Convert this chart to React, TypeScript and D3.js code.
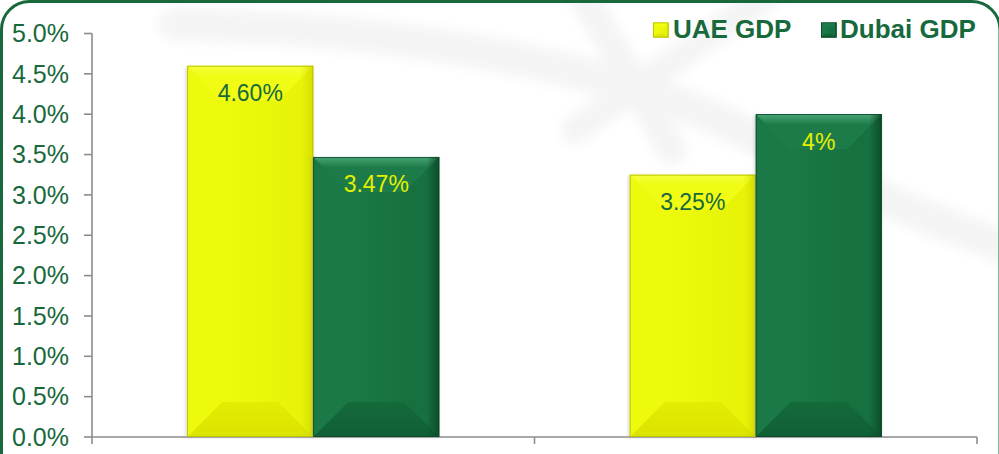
import React from "react";
import * as d3 from "d3";

const categories = ["Period 1", "Period 2"];
const seriesNames = ["UAE GDP", "Dubai GDP"];
const uaeGdp = [4.6, 3.25];
const dubaiGdp = [3.47, 4.0];
const uaeLabels = ["4.60%", "3.25%"];
const dubaiLabels = ["3.47%", "4%"];
const yTicks = [0, 0.5, 1, 1.5, 2, 2.5, 3, 3.5, 4, 4.5, 5];
const yTickLabels = ["0.0%", "0.5%", "1.0%", "1.5%", "2.0%", "2.5%", "3.0%", "3.5%", "4.0%", "4.5%", "5.0%"];

const W = 999;
const H = 454;
const M = { left: 92, right: 22, top: 33.5, bottom: 17 };
const DARK = "#17693c";
const FONT = "Arial, 'Liberation Sans', sans-serif";

type Pal = { base: string; bodyLeft: string; bodyRight: string; light: string; lightEdge: string; bottom: string; bottomEdge: string; stroke: string; label: string };
const pals: Pal[] = [
  { base: "#e8f407", bodyLeft: "#eefa0c", bodyRight: "#d5dc00", light: "#f0fc14", lightEdge: "#f4ff3c", bottom: "#e3ec02", bottomEdge: "#dbe300", stroke: "#b5b800", label: DARK },
  { base: "#16703f", bodyLeft: "#1a7946", bodyRight: "#0a4a28", light: "#1d7b49", lightEdge: "#48a474", bottom: "#146a3b", bottomEdge: "#105f35", stroke: "#0b4627", label: "#e4f000" },
];

function BevelRect({ x, y, w, h, p, id, d0 }: { x: number; y: number; w: number; h: number; p: Pal; id: string; d0: number }) {
  const d = Math.min(d0, w / 2, h / 2);
  return (
    <g transform={`translate(${x},${y})`}>
      <rect x={0} y={0} width={w} height={h} fill={`url(#body-${id})`} />
      <polygon points={`0,0 ${w},0 ${w - d},${d} ${d},${d}`} fill={`url(#top-${id})`} />
      <polygon points={`0,${h} ${w},${h} ${w - d},${h - d} ${d},${h - d}`} fill={`url(#bot-${id})`} />
      <rect x={w * 0.9} y={0} width={w * 0.1} height={h} fill={`url(#edge-${id})`} />
      <rect x={0.4} y={0.4} width={w - 0.8} height={h - 0.8} fill="none" stroke={p.stroke} strokeWidth={0.8} />
    </g>
  );
}

export default function App() {
  const x0 = d3.scaleBand<string>().domain(categories).range([M.left, W - M.right]).paddingInner(0).paddingOuter(0);
  const x1 = d3.scaleBand<string>().domain(seriesNames).range([0, x0.bandwidth()]).paddingInner(0).paddingOuter(0.756);
  const y = d3.scaleLinear().domain([0, 5]).range([H - M.bottom, M.top]);
  const series = [uaeGdp, dubaiGdp];
  const labels = [uaeLabels, dubaiLabels];
  const y0 = y(0);

  return (
    <svg width={W} height={H} style={{ position: "absolute", left: 0, top: 0, background: "#fff" }} fontFamily={FONT}>
      <defs>
        {pals.map((p, i) => (
          <React.Fragment key={i}>
            <linearGradient id={`body-${i}`} x1="0" y1="0" x2="1" y2="0">
              <stop offset="0" stopColor={p.bodyLeft} />
              <stop offset="0.3" stopColor={p.bodyLeft} />
              <stop offset="0.8" stopColor={p.base} />
              <stop offset="1" stopColor={p.base} />
            </linearGradient>
            <linearGradient id={`edge-${i}`} x1="0" y1="0" x2="1" y2="0">
              <stop offset="0" stopColor={p.bodyRight} stopOpacity={0} />
              <stop offset="1" stopColor={p.bodyRight} stopOpacity={0.9} />
            </linearGradient>
            <linearGradient id={`top-${i}`} x1="0" y1="0" x2="0" y2="1">
              <stop offset="0" stopColor={p.lightEdge} />
              <stop offset="0.3" stopColor={p.light} />
              <stop offset="1" stopColor={p.light} />
            </linearGradient>
            <linearGradient id={`bot-${i}`} x1="0" y1="0" x2="0" y2="1">
              <stop offset="0" stopColor={p.bottom} />
              <stop offset="1" stopColor={p.bottomEdge} />
            </linearGradient>
          </React.Fragment>
        ))}
        <filter id="blur" x="-20%" y="-20%" width="140%" height="140%">
          <feGaussianBlur stdDeviation="6" />
        </filter>
        <filter id="shadow" x="-10%" y="-10%" width="120%" height="120%">
          <feGaussianBlur stdDeviation="1.5" />
        </filter>
      </defs>

      {/* watermark */}
      <g filter="url(#blur)" fill="none" stroke="#f2f2f2" strokeLinecap="round" opacity={0.8}>
        <path d="M175,24 C380,28 600,60 740,130 S930,220 1020,252" strokeWidth={34} />
        <path d="M580,-10 L672,150" strokeWidth={30} />
        <path d="M775,-10 L575,130" strokeWidth={28} />
      </g>

      {/* axes */}
      <g stroke="#8c8c8c" strokeWidth={1.6} fill="none">
        <line x1={M.left} x2={M.left} y1={M.top} y2={y0} />
        {yTicks.map((t) => (
          <line key={t} x1={M.left - 8} x2={M.left} y1={y(t)} y2={y(t)} />
        ))}
        <line x1={M.left} x2={W - M.right} y1={y0} y2={y0} />
        {[...categories.map((c) => x0(c) as number), W - M.right].map((v, i) => (
          <line key={i} x1={v} x2={v} y1={y0} y2={y0 + 7} />
        ))}
      </g>
      {yTicks.map((t, i) => (
        <text key={t} x={69} y={y(t)} dy="0.35em" textAnchor="end" fontSize={25} fill={DARK}>
          {yTickLabels[i]}
        </text>
      ))}

      {/* bars */}
      {categories.map((c, ci) =>
        series.map((vals, si) => {
          const bx = (x0(c) as number) + (x1(seriesNames[si]) as number);
          const bw = x1.bandwidth();
          const by = y(vals[ci]);
          const bh = y0 - by;
          return (
            <g key={`${ci}-${si}`}>
              <rect x={bx - 2} y={by + 1} width={bw + 2} height={bh} fill="#999" opacity={0.3} filter="url(#shadow)" />
              <BevelRect x={bx} y={by} w={bw} h={bh} p={pals[si]} id={String(si)} d0={35} />
              <text x={bx + bw / 2} y={by + 35.5} textAnchor="middle" fontSize={23} fill={pals[si].label}>
                {labels[si][ci]}
              </text>
            </g>
          );
        })
      )}

      {/* legend */}
      {[
        { sx: 653, tx: 673 },
        { sx: 821, tx: 840 },
      ].map((l, i) => (
        <g key={i}>
          <BevelRect x={l.sx} y={22.5} w={15.5} h={15} p={pals[i]} id={String(i)} d0={4} />
          <text x={l.tx} y={37.5} fontSize={26} fontWeight="bold" fill={DARK}>
            {seriesNames[i]}
          </text>
        </g>
      ))}

      {/* border */}
      <rect x={1.5} y={1.5} width={998.5} height={500} rx={28} ry={28} fill="none" stroke={DARK} strokeWidth={3} />
    </svg>
  );
}
